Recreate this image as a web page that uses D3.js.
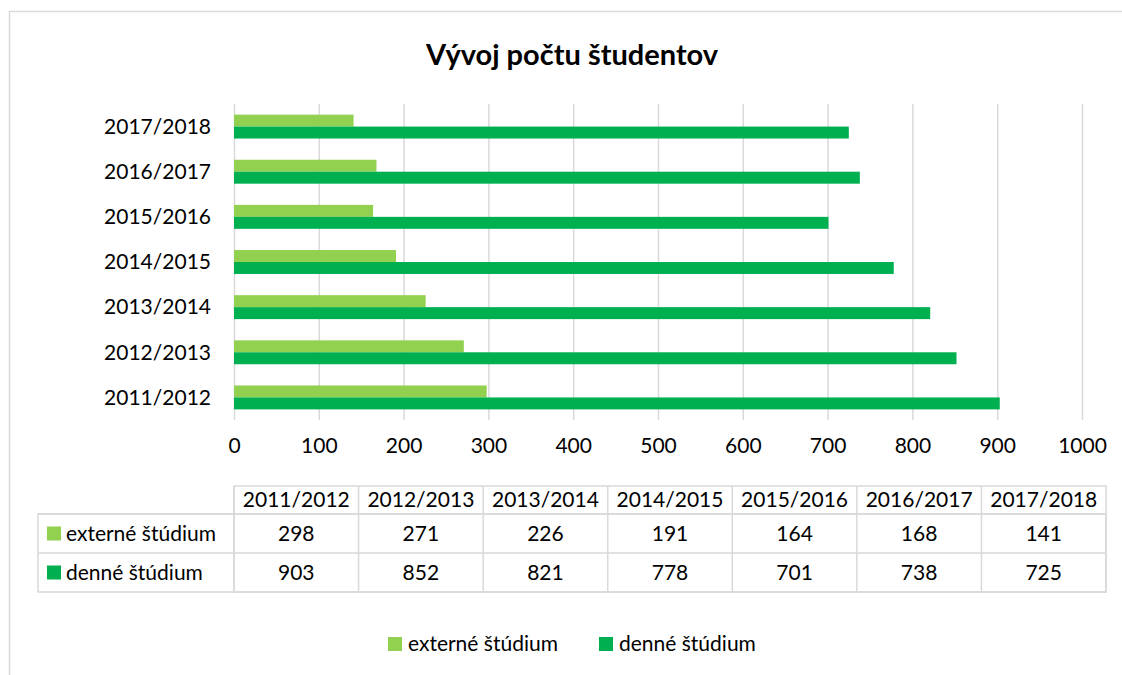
<!DOCTYPE html>
<html>
<head>
<meta charset="utf-8">
<script src="https://cdn.jsdelivr.net/npm/d3@7"></script>
<style>
  html, body { margin: 0; padding: 0; background: #fff; }
  svg { display: block; font-family: Lato, "Open Sans", sans-serif; }
</style>
</head>
<body>
<div id="chart"></div>
<script>
const width = 1122, height = 675;

// data
const years = ["2011/2012", "2012/2013", "2013/2014", "2014/2015", "2015/2016", "2016/2017", "2017/2018"];
const externe = [298, 271, 226, 191, 164, 168, 141];
const denne = [903, 852, 821, 778, 701, 738, 725];
const seriesNames = ["externé štúdium", "denné štúdium"];
const seriesColors = ["#92D050", "#00B050"];
const xTicks = [0, 100, 200, 300, 400, 500, 600, 700, 800, 900, 1000];

const series = [externe, denne];
const fontSize = 21;

const svg = d3.select('#chart').append('svg')
              .attr('width', width)
              .attr('height', height);

// chart frame
svg.append('rect')
   .attr('x', 9.5).attr('y', 11.5)
   .attr('width', width + 20).attr('height', height + 20)
   .attr('fill', '#fff')
   .attr('stroke', '#d9d9d9')
   .attr('stroke-width', 1.5);

svg.append('text')
   .attr('x', 572).attr('y', 65)
   .attr('text-anchor', 'middle')
   .attr('font-weight', 'bold')
   .attr('font-size', 29)
   .attr('fill', '#000')
   .text('Vývoj počtu študentov');

const x = d3.scaleLinear().domain([0, 1000]).range([234, 1082]);
const y = d3.scaleBand()
            .domain(years.slice().reverse())
            .range([104, 420])
            .paddingInner(0.47)
            .paddingOuter(0.235);
const ySub = d3.scaleBand().domain([0, 1]).range([0, y.bandwidth()]);

// gridlines
const grid = svg.append('g')
                .attr('transform', `translate(0,104)`)
                .call(d3.axisBottom(x).tickValues(xTicks).tickSize(316).tickFormat(''));
grid.select('.domain').remove();
grid.selectAll('line').attr('stroke', '#d9d9d9').attr('stroke-width', 1.5);

// bars
const groups = svg.append('g')
                  .selectAll('g')
                  .data(years)
                  .join('g')
                  .attr('transform', d => `translate(0,${y(d)})`);

groups.selectAll('rect')
      .data((d, i) => series.map((s, k) => ({k, v: s[i]})))
      .join('rect')
      .attr('x', x(0))
      .attr('y', d => ySub(d.k))
      .attr('width', d => x(d.v) - x(0))
      .attr('height', ySub.bandwidth())
      .attr('fill', d => seriesColors[d.k]);

// category labels
svg.append('g')
   .selectAll('text')
   .data(years)
   .join('text')
   .attr('x', 211)
   .attr('y', d => y(d) + y.bandwidth() / 2)
   .attr('dy', '0.35em')
   .attr('text-anchor', 'end')
   .attr('font-size', fontSize)
   .attr('fill', '#000')
   .text(d => d);

// value axis labels
const xAxis = svg.append('g')
                 .attr('transform', 'translate(0,438)')
                 .call(d3.axisBottom(x).tickValues(xTicks).tickSize(0).tickPadding(0).tickFormat(d3.format('d')));
xAxis.select('.domain').remove();
xAxis.selectAll('text')
     .attr('font-size', fontSize)
     .attr('font-family', 'Lato, "Open Sans", sans-serif')
     .attr('fill', '#000');

// data table
const colX = d3.scaleBand().domain(years).range([234, 1106]);
const rowTop = [486, 514, 553, 592];
const table = svg.append('g')
                 .attr('stroke', '#d9d9d9')
                 .attr('stroke-width', 1.5)
                 .attr('fill', 'none');

table.append('rect').attr('x', 234).attr('y', rowTop[0])
     .attr('width', 1106 - 234).attr('height', rowTop[3] - rowTop[0]);
table.append('rect').attr('x', 38).attr('y', rowTop[1])
     .attr('width', 1106 - 38).attr('height', rowTop[3] - rowTop[1]);
table.selectAll('.h')
     .data([rowTop[1], rowTop[2]])
     .join('line')
     .attr('x1', 38).attr('x2', 1106)
     .attr('y1', d => d).attr('y2', d => d);
table.selectAll('.v')
     .data(years)
     .join('line')
     .attr('x1', d => colX(d)).attr('x2', d => colX(d))
     .attr('y1', rowTop[0]).attr('y2', rowTop[3]);

const cellText = svg.append('g')
                    .attr('font-size', fontSize)
                    .attr('fill', '#000')
                    .attr('text-anchor', 'middle');

cellText.selectAll('.hdr')
        .data(years)
        .join('text')
        .attr('x', d => colX(d) + colX.bandwidth() / 2)
        .attr('y', (rowTop[0] + rowTop[1]) / 2)
        .attr('dy', '0.35em')
        .text(d => d);

series.forEach((s, k) => {
    const yc = (rowTop[k + 1] + rowTop[k + 2]) / 2;
    cellText.append('g')
            .selectAll('text')
            .data(s)
            .join('text')
            .attr('x', (d, i) => colX(years[i]) + colX.bandwidth() / 2)
            .attr('y', yc)
            .attr('dy', '0.35em')
            .text(d => d);

    svg.append('rect')
       .attr('x', 47).attr('y', yc - 7)
       .attr('width', 14).attr('height', 14)
       .attr('fill', seriesColors[k]);
    svg.append('text')
       .attr('x', 66).attr('y', yc)
       .attr('dy', '0.35em')
       .attr('font-size', fontSize)
       .attr('fill', '#000')
       .text(seriesNames[k]);
});

// legend
const legendX = [388, 599];
const legend = svg.append('g')
                  .selectAll('g')
                  .data(seriesNames)
                  .join('g')
                  .attr('transform', (d, i) => `translate(${legendX[i]},644)`);
legend.append('rect')
      .attr('x', 0).attr('y', -7)
      .attr('width', 14).attr('height', 14)
      .attr('fill', (d, i) => seriesColors[i]);
legend.append('text')
      .attr('x', 20)
      .attr('dy', '0.35em')
      .attr('font-size', fontSize)
      .attr('fill', '#000')
      .text(d => d);
</script>
</body>
</html>
